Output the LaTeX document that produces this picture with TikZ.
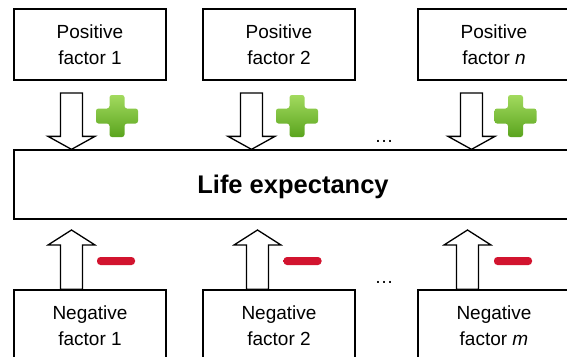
\documentclass[tikz,border=0pt]{standalone}
\usepackage{fontspec}
\setmainfont{Liberation Sans}
\usetikzlibrary{calc,positioning}
\definecolor{plustop}{HTML}{A2DA5E}
\definecolor{plusbot}{HTML}{5AA41E}
\definecolor{minusedge}{HTML}{D2142F}
\definecolor{minusmid}{HTML}{FF6A80}

\begin{document}
\begin{tikzpicture}[x=1pt,y=-1pt,
  factor/.style={draw,line width=1.3pt,minimum width=152pt,
    minimum height=71pt,align=center,inner sep=0pt,
    font=\fontsize{19}{26}\selectfont},
  fatdown/.style={draw,line width=1.3pt,fill=white,to path={
    let \p1=(\tikztostart),\p2=(\tikztotarget) in
    (\x1-11pt,\y1) -- (\x1-11pt,\y2+13pt) -- (\x1-23.5pt,\y2+13pt) -- (\x1,\y2)
    -- (\x1+23.5pt,\y2+13pt) -- (\x1+11pt,\y2+13pt) -- (\x1+11pt,\y1) -- cycle}},
  fatup/.style={draw,line width=1.3pt,fill=white,to path={
    let \p1=(\tikztostart),\p2=(\tikztotarget) in
    (\x1-11pt,\y1) -- (\x1-11pt,\y2-15pt) -- (\x1-23.5pt,\y2-15pt) -- (\x1,\y2)
    -- (\x1+23.5pt,\y2-15pt) -- (\x1+11pt,\y2-15pt) -- (\x1+11pt,\y1) -- cycle}},
  plus/.pic={\shade[top color=plustop,bottom color=plusbot,rounded corners=2.5pt]
    (-7.5,-21) -- (7.5,-21) -- (7.5,-7.5) -- (21,-7.5) -- (21,7.5) -- (7.5,7.5)
    -- (7.5,21) -- (-7.5,21) -- (-7.5,7.5) -- (-21,7.5) -- (-21,-7.5)
    -- (-7.5,-7.5) -- cycle;},
  minus/.pic={\shade[top color=minusedge,middle color=minusmid,
    bottom color=minusedge,rounded corners=3.5pt] (-19,-4) rectangle (19,4);},
  dotsnote/.style={anchor=base,font=\fontsize{19}{26}\selectfont}
]
\clip (0,0) rectangle (567,356);
% factors and outcome
\node[factor] (pos1) at (90,44.5) {Positive\\factor 1};
\node[factor] (pos2) at (279,44.5) {Positive\\factor 2};
\node[factor] (posn) at (494,44.5) {Positive\\factor \textit{n}};
\node[factor,minimum width=558pt,minimum height=69pt,text depth=0pt,
  font=\bfseries\fontsize{25.5}{30}\selectfont] (life) at (293,184.5) {Life expectancy};
\node[factor] (neg1) at (90,325.5) {Negative\\factor 1};
\node[factor] (neg2) at (279,325.5) {Negative\\factor 2};
\node[factor] (negm) at (494,325.5) {Negative\\factor \textit{m}};
\node[dotsnote] (dotsup) at (384,142) {\dots};
\node[dotsnote] (dotsdown) at (384,283) {\dots};

% block arrows
\coordinate (a1) at (71.5,93);
\coordinate (a2) at (251.5,93);
\coordinate (an) at (471.5,93);
\coordinate (b1) at (71.5,230);
\coordinate (b2) at (257.5,230);
\coordinate (bm) at (467.5,230);
\draw[fatdown] (a1) to (a1 |- life.north);
\draw[fatdown] (a2) to (a2 |- life.north);
\draw[fatdown] (an) to (an |- life.north);
\draw[fatup] (b1 |- neg1.north) to (b1);
\draw[fatup] (b2 |- neg2.north) to (b2);
\draw[fatup] (bm |- negm.north) to (bm);

% signs
\pic at (117,116) {plus};
\pic at (297,116) {plus};
\pic at (515.5,116) {plus};
\pic at (116,261) {minus};
\pic at (302.5,261) {minus};
\pic at (513,261) {minus};
\end{tikzpicture}
\end{document}
